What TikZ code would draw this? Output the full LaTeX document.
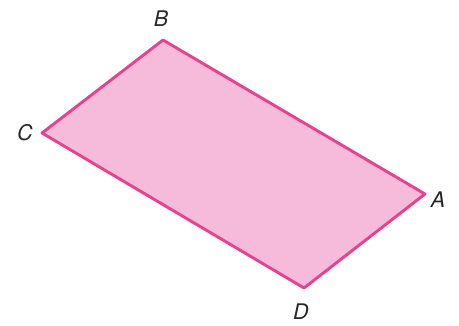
\documentclass[tikz,border=0pt]{standalone}
\usepackage{fontspec}
\setmainfont{TeX Gyre Heros}
\definecolor{edgepink}{HTML}{E8418F}
\definecolor{fillpink}{HTML}{F6BBDA}
\begin{document}
\begin{tikzpicture}[x=1pt,y=1pt,
  lbl/.style={font=\fontsize{21.5}{21.5}\selectfont\itshape, text=black!85, inner sep=0pt}]
\useasboundingbox (0,0) rectangle (459,326);
\coordinate (A) at (425,132);
\coordinate (B) at (163,286);
\coordinate (C) at (42,193);
\coordinate (D) at (304,38);
\draw[edgepink, fill=fillpink, line width=2.9pt, line join=round] (A) -- (B) -- (C) -- (D) -- cycle;
\node[lbl] (lA) at (438,126) {A};
\node[lbl] (lB) at (161,307) {B};
\node[lbl] (lC) at (25,193) {C};
\node[lbl] (lD) at (301,14) {D};
\end{tikzpicture}
\end{document}
